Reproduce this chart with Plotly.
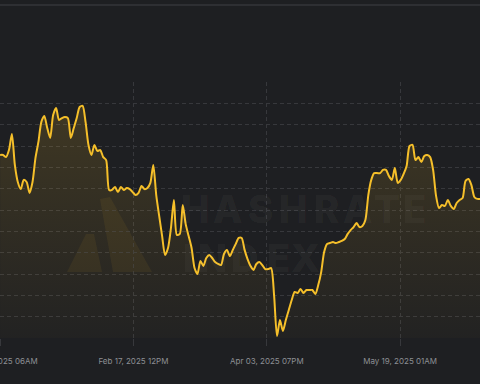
import plotly.graph_objects as go
import pandas as pd

# ---------------- data ----------------
start_date = "2025-01-03 06:00"
hashprice = [
    49.58, 49.58, 49.48, 49.81, 50.56, 49.11, 48.31, 47.98, 48.41, 48.31,
    47.80, 48.31, 49.44, 50.19, 51.13, 51.41, 50.84, 50.38, 51.45, 51.78,
    51.22, 51.31, 51.36, 51.31, 50.38, 50.84, 51.31, 51.83, 51.88, 51.13,
    50.05, 49.58, 50.05, 49.77, 49.81, 49.48, 49.34, 47.94, 47.94, 48.08,
    47.84, 48.08, 47.94, 48.03, 47.98, 47.84, 47.70, 47.80, 48.13, 47.98,
    48.03, 48.27, 49.11, 47.70, 46.72, 45.78, 44.89, 45.22, 46.16, 47.47,
    45.83, 45.88, 47.23, 46.34, 45.78, 45.22, 44.28, 44.00, 44.61, 44.38,
    44.75, 44.89, 44.75, 44.56, 44.47, 44.42, 44.94, 45.13, 44.84, 45.13,
    45.41, 45.69, 45.69, 45.13, 44.70, 44.38, 44.19, 44.47, 44.56, 44.42,
    44.23, 44.23, 44.28, 43.02, 41.09, 41.84, 41.33, 41.84, 42.31, 42.78,
    43.16, 43.11, 43.30, 43.11, 43.25, 43.25, 43.25, 43.06, 43.48, 44.09,
    45.03, 45.41, 45.45, 45.50, 45.45, 45.50, 45.55, 45.64, 45.88, 46.06,
    46.20, 46.39, 46.20, 46.25, 46.53, 47.70, 48.41, 48.73, 48.73, 48.73,
    48.88, 48.88, 48.59, 48.41, 48.97, 48.27, 48.41, 48.69, 49.06, 50.00,
    50.05, 49.34, 49.48, 49.25, 49.53, 49.58, 49.48, 48.88, 47.66, 47.09,
    47.23, 47.19, 47.47, 47.19, 47.05, 47.33, 47.47, 47.56, 48.36, 48.45,
    48.17, 47.61, 47.52, 47.52,
]
dates = pd.date_range(start_date, periods=len(hashprice), freq="D")

tick_dates = ["2025-01-03 06:00", "2025-02-17 12:00", "2025-04-03 19:00", "2025-05-19 01:00"]
tick_labels = ["Jan 03, 2025 06AM", "Feb 17, 2025 12PM", "Apr 03, 2025 07PM", "May 19, 2025 01AM"]
x_range = ["2025-01-03 05:00", "2025-06-15 04:00"]
y_range = [41, 53]

# ---------------- style ----------------
W, H = 480, 384
M_T, M_B = 82, 46
BG = "#1e1f22"
GRID = "#37383c"
LINE = "#f5bf2a"
TEXT = "#8d8f94"


def px(x):
    return x / W


def py(y):
    return (H - M_B - y) / (H - M_T - M_B)


fig = go.Figure()
fig.add_trace(go.Scatter(
    x=dates, y=hashprice, mode="lines",
    line=dict(color=LINE, width=2, shape="spline", smoothing=0.7),
    fill="tozeroy",
    fillgradient=dict(
        type="vertical", start=y_range[0], stop=y_range[1],
        colorscale=[[0, "rgba(245,191,42,0.02)"], [1, "rgba(245,191,42,0.17)"]],
    ),
    hoverinfo="skip", showlegend=False,
))

# watermark logo
def path(points):
    return "M " + " L ".join(f"{px(a)},{py(b)}" for a, b in points) + " Z"

logo_color = "rgba(245,191,42,0.07)"
shapes = [
    dict(type="path", xref="paper", yref="paper", layer="below",
         path=path([(67, 272), (86, 234), (94, 234), (102, 272)]),
         fillcolor=logo_color, line=dict(width=0)),
    dict(type="path", xref="paper", yref="paper", layer="below",
         path=path([(100, 199), (110, 197), (152, 272), (113, 272)]),
         fillcolor=logo_color, line=dict(width=0)),
    dict(type="line", xref="paper", yref="paper", x0=0, x1=1, y0=py(5), y1=py(5),
         line=dict(color="#2e2f33", width=2)),
]

annotations = []
wm_font = dict(family="Inter", size=38, color="rgba(255,255,255,0.055)", weight=800)
for ch, cx in zip("HASHRATE", [195, 227, 260, 293, 326, 357, 387, 414]):
    annotations.append(dict(text=ch, x=px(cx), y=py(209), xref="paper", yref="paper",
                            showarrow=False, font=wm_font, xanchor="center", yanchor="middle"))
for ch, cx in zip("INDEX", [188, 212, 245, 278, 305]):
    annotations.append(dict(text=ch, x=px(cx), y=py(258), xref="paper", yref="paper",
                            showarrow=False, font=wm_font, xanchor="center", yanchor="middle"))

fig.update_layout(
    width=W, height=H,
    margin=dict(l=0, r=0, t=M_T, b=M_B, pad=0, autoexpand=False),
    paper_bgcolor=BG, plot_bgcolor=BG,
    shapes=shapes, annotations=annotations,
    showlegend=False,
    xaxis=dict(
        type="date", range=x_range, tickmode="array",
        tickvals=tick_dates, ticktext=tick_labels, automargin=False,
        showgrid=True, gridcolor=GRID, griddash="4px,3px", gridwidth=1,
        ticks="outside", ticklen=7, tickcolor=GRID, tickwidth=1,
        tickfont=dict(family="Inter", size=8, color=TEXT),
        ticklabelstandoff=8, ticklabeloverflow="allow",
        zeroline=False, showline=False, fixedrange=True,
    ),
    yaxis=dict(
        range=y_range, tick0=41, dtick=1, showticklabels=False, automargin=False,
        showgrid=True, gridcolor=GRID, griddash="4px,3px", gridwidth=1,
        zeroline=False, showline=False, ticks="", fixedrange=True,
    ),
)

fig.write_html(
    "out.html",
    config={"displayModeBar": False, "staticPlot": True},
    post_script="document.body.style.margin='0';document.body.style.overflow='hidden';"
                "document.documentElement.style.background='" + BG + "';",
)
